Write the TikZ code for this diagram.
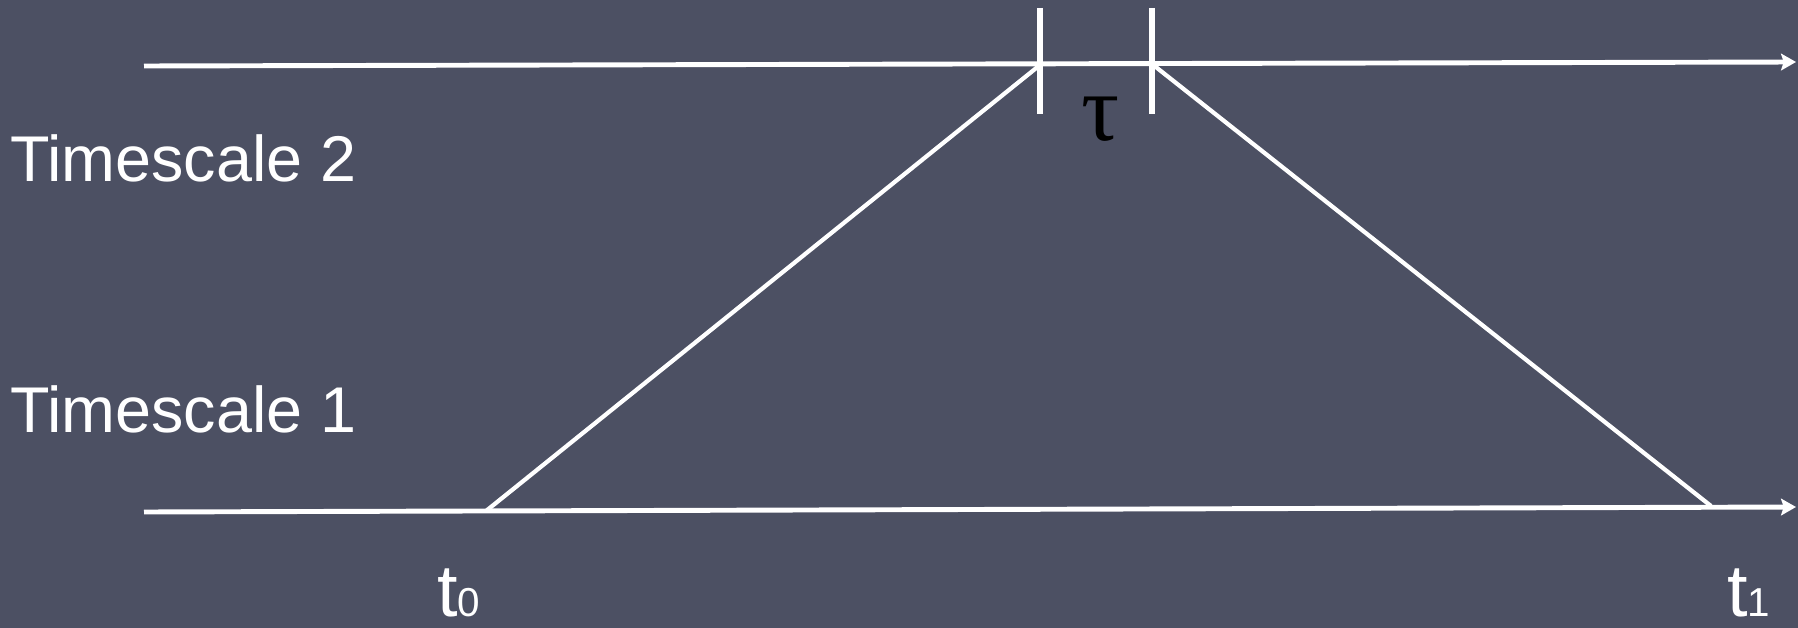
\documentclass[tikz,border=0pt]{standalone}
\usepackage{fontspec}
\setmainfont{Liberation Sans}
\newfontfamily\serifface{Liberation Serif}
\usetikzlibrary{arrows.meta}
\definecolor{boardbg}{RGB}{76,80,99}
\tikzset{
  axisline/.style={draw=white, line width=2.8pt, -{Stealth[length=8.5pt,width=9.5pt,inset=1.5pt]}},
  diagline/.style={draw=white, line width=2.4pt},
  tickline/.style={draw=white, line width=3pt},
  lbl/.style={text=white, inner sep=0pt, anchor=base west, font=\fontsize{36.8}{37}\selectfont},
  tlbl/.style={text=white, inner sep=0pt, anchor=base west},
  taulbl/.style={text=black, inner sep=0pt, anchor=base west, font=\serifface\fontsize{54}{54}\selectfont},
}
\begin{document}
\begin{tikzpicture}[x=0.02cm, y=-0.02cm]
\fill[boardbg] (0,0) rectangle (1798,628);
\useasboundingbox (0,0) rectangle (1798,628);
% axis end points
\coordinate (a1) at (144,66);
\coordinate (a2) at (1796,62);
\coordinate (b1) at (144,512);
\coordinate (b2) at (1796,507);
% tick / meeting points
\coordinate (q1) at (1040,65);
\coordinate (q2) at (1152,64);
\coordinate (q1top) at (1040,8);
\coordinate (q1bot) at (1040,114);
\coordinate (q2top) at (1152,8);
\coordinate (q2bot) at (1152,114);
\coordinate (p0) at (486,511);
\coordinate (p1) at (1711,506);
% axes
\draw[axisline] (a1) -- (a2);
\draw[axisline] (b1) -- (b2);
% ticks
\draw[tickline] (q1top) -- (q1bot);
\draw[tickline] (q2top) -- (q2bot);
% diagonals
\draw[diagline] (q1) -- (p0);
\draw[diagline] (q2) -- (p1);
% labels
\node[lbl] (ts2) at (10,182) {Timescale 2};
\node[lbl] (ts1) at (10,432) {Timescale 1};
\node[taulbl] (tau) at (1081,141) {τ};
\node[tlbl] (t0) at (437,616) {{\fontsize{42}{42}\selectfont t}{\fontsize{23}{23}\selectfont 0}};
\node[tlbl] (t1) at (1727,616) {{\fontsize{42}{42}\selectfont t}{\fontsize{23}{23}\selectfont 1}};
\end{tikzpicture}
\end{document}
